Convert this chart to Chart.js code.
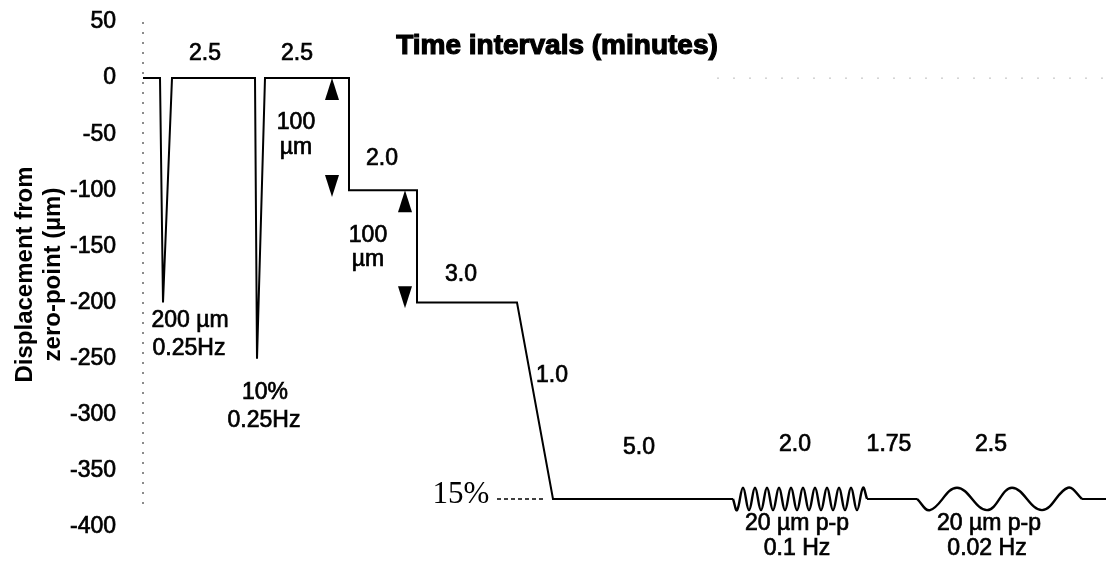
<!DOCTYPE html>
<html>
<head>
<meta charset="utf-8">
<script src="https://cdn.jsdelivr.net/npm/chart.js@4.4.0/dist/chart.umd.min.js"></script>
<style>
  html, body { margin: 0; padding: 0; background: #fff; }
  #wrap { width: 1106px; height: 562px; }
</style>
</head>
<body>
<div id="wrap"><canvas id="profileChart"></canvas></div>
<script>
// x is schematic time (not to scale), y is displacement in µm

// stepped part of the protocol (null = gap where the wave traces sit)
const stepTime = [0, 1.7, 2.0, 2.9, 11.2, 11.4, 12.2, 20.6, 20.6, 27.4, 27.4, 37.4, 41.0, 59.0, 65.0, 72.4, 77.4, 85.0, 93.9, 96.3];
const stepDisp = [0, 0, -200, 0, 0, -250, 0, 0, -100, -100, -200, -200, -375, -375, null, -375, -375, null, -375, -375];

// 0.1 Hz, 20 µm p-p oscillation
const fastTime = [59.0, 59.4, 60.0, 60.6, 61.2, 61.8, 62.4, 63.0, 63.6, 64.2, 64.8, 65.4, 66.0, 66.6, 67.2, 67.8, 68.4, 69.0, 69.6, 70.2, 70.8, 71.4, 72.0, 72.4];
const fastDisp = [-375, -385, -365, -385, -365, -385, -365, -385, -365, -385, -365, -385, -365, -385, -365, -385, -365, -385, -365, -385, -365, -385, -365, -375];

// 0.02 Hz, 20 µm p-p oscillation
const slowTime = [77.4, 78.7, 81.4, 84.4, 86.9, 89.9, 92.5, 93.9];
const slowDisp = [-375, -385, -365, -385, -365, -385, -365, -375];

// faint zero reference and the 15% guide
const zeroTime = [57.4, 96.3];
const zeroDisp = [0, 0];
const pctTime = [35.4, 40.2];
const pctDisp = [-375, -375];

const yTicks = [50, 0, -50, -100, -150, -200, -250, -300, -350, -400];

// text notes placed at data coordinates
const notes = [
  { text: '2.5', x: 6.2, y: 22 },
  { text: '2.5', x: 15.4, y: 22 },
  { text: 'Time intervals (minutes)', x: 41.4, y: 28, kind: 'title' },
  { text: '100', x: 15.3, y: -40 },
  { text: 'µm', x: 15.3, y: -62 },
  { text: '2.0', x: 23.9, y: -72 },
  { text: '100', x: 22.5, y: -140 },
  { text: 'µm', x: 22.5, y: -162 },
  { text: '3.0', x: 31.8, y: -175 },
  { text: '1.0', x: 40.9, y: -265 },
  { text: '5.0', x: 49.6, y: -329 },
  { text: '15%', x: 31.8, y: -371, kind: 'serif' },
  { text: '2.0', x: 65.2, y: -327 },
  { text: '1.75', x: 74.6, y: -327 },
  { text: '2.5', x: 84.8, y: -327 },
  { text: '20 µm p-p', x: 65.4, y: -397 },
  { text: '0.1 Hz', x: 65.4, y: -419 },
  { text: '20 µm p-p', x: 84.6, y: -397 },
  { text: '0.02 Hz', x: 84.4, y: -419 },
  { text: '200 µm', x: 4.7, y: -216 },
  { text: '0.25Hz', x: 4.6, y: -241 },
  { text: '10%', x: 12.2, y: -280 },
  { text: '0.25Hz', x: 12.1, y: -305 }
];

// 100 µm arrows (tip position)
const arrows = [
  { x: 18.9, tip: 0, dir: 'up' },
  { x: 18.9, tip: -106, dir: 'down' },
  { x: 26.2, tip: -100, dir: 'up' },
  { x: 26.2, tip: -205, dir: 'down' }
];

const sans = '"Liberation Sans", Arial, sans-serif';
const noteFonts = {
  normal: { font: '23px ' + sans, stroke: 0.7 },
  title: { font: 'bold 28px ' + sans, stroke: 1.2 },
  serif: { font: '31px "Liberation Serif", "Times New Roman", serif', stroke: 0 }
};

function toPoints(xs, ys) {
  return xs.map((x, i) => ({ x: x, y: ys[i] }));
}

const annotationPlugin = {
  id: 'notes',
  beforeDatasetsDraw(chart) {
    // dotted y axis line
    const { ctx, scales: { x, y } } = chart;
    const px = x.getPixelForValue(0);
    ctx.save();
    ctx.strokeStyle = '#666';
    ctx.lineWidth = 1.5;
    ctx.setLineDash([2, 8]);
    ctx.beginPath();
    ctx.moveTo(px, y.getPixelForValue(50));
    ctx.lineTo(px, y.getPixelForValue(-380));
    ctx.stroke();
    ctx.restore();
  },
  afterDatasetsDraw(chart) {
    const { ctx, scales: { x, y } } = chart;
    ctx.save();
    ctx.fillStyle = '#000';
    ctx.strokeStyle = '#000';
    ctx.textAlign = 'center';
    ctx.textBaseline = 'middle';
    notes.forEach(n => {
      const f = noteFonts[n.kind || 'normal'];
      const px = x.getPixelForValue(n.x), py = y.getPixelForValue(n.y);
      ctx.font = f.font;
      ctx.fillText(n.text, px, py);
      if (f.stroke) {
        ctx.lineWidth = f.stroke;
        ctx.strokeText(n.text, px, py);
      }
    });
    arrows.forEach(a => {
      const px = x.getPixelForValue(a.x);
      const tip = y.getPixelForValue(a.tip);
      const h = a.dir === 'up' ? 22 : -22;
      ctx.beginPath();
      ctx.moveTo(px, tip);
      ctx.lineTo(px - 7, tip + h);
      ctx.lineTo(px + 7, tip + h);
      ctx.closePath();
      ctx.fill();
    });
    ctx.restore();
  }
};

const ctx = document.getElementById('profileChart').getContext('2d');
const profileChart = new Chart(ctx, {
  type: 'line',
  data: {
    datasets: [
      { data: toPoints(zeroTime, zeroDisp), borderColor: '#bbb', borderWidth: 1, borderDash: [2, 14] },
      { data: toPoints(pctTime, pctDisp), borderColor: '#000', borderWidth: 1.5, borderDash: [4, 3] },
      { data: toPoints(stepTime, stepDisp), borderColor: '#000', borderWidth: 2, tension: 0 },
      { data: toPoints(fastTime, fastDisp), borderColor: '#000', borderWidth: 2.4, tension: 0.4 },
      { data: toPoints(slowTime, slowDisp), borderColor: '#000', borderWidth: 2.4, tension: 0.4 }
    ]
  },
  options: {
    responsive: true,
    maintainAspectRatio: false,
    animation: false,
    layout: { padding: { top: 22, bottom: 35, left: 0, right: 0 } },
    elements: { point: { radius: 0 } },
    plugins: {
      legend: { display: false },
      tooltip: { enabled: false }
    },
    scales: {
      x: { type: 'linear', min: 0, max: 96.3, display: false },
      y: {
        min: -400,
        max: 50,
        afterBuildTicks: scale => { scale.ticks = yTicks.map(v => ({ value: v })); },
        afterFit: scale => {
          scale.width = 143;
          scale.paddingTop = 0;
          scale.paddingBottom = 0;
        },
        ticks: {
          padding: 19,
          color: '#000',
          textStrokeColor: '#000',
          textStrokeWidth: 0.7,
          font: { family: sans, size: 23 }
        },
        grid: { display: false },
        border: { display: false },
        title: {
          display: true,
          text: ['Displacement from', 'zero-point (µm)'],
          color: '#000',
          font: { family: sans, size: 24, weight: 'bold', lineHeight: 1.15 },
          padding: { top: 12, bottom: 0 }
        }
      }
    }
  },
  plugins: [annotationPlugin]
});
</script>
</body>
</html>
